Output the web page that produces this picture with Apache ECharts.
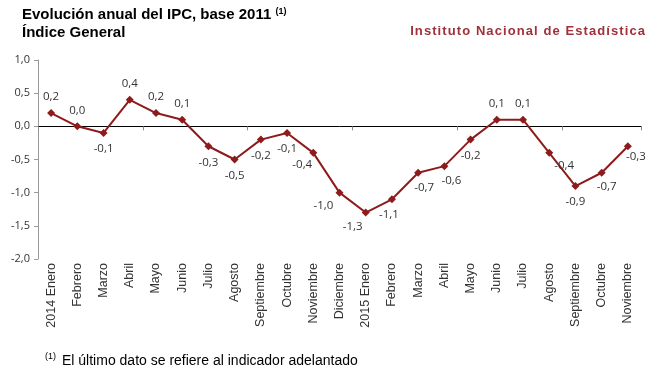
<!DOCTYPE html>
<html><head><meta charset="utf-8">
<script src="https://cdn.jsdelivr.net/npm/echarts@6/dist/echarts.min.js"></script>
<style>html,body{margin:0;padding:0;background:#fff}#c{width:665px;height:379px}</style>
</head><body><div id="c"></div>
<script>
var categories = ['2014 Enero','Febrero','Marzo','Abril','Mayo','Junio','Julio','Agosto','Septiembre','Octubre','Noviembre','Diciembre','2015 Enero','Febrero','Marzo','Abril','Mayo','Junio','Julio','Agosto','Septiembre','Octubre','Noviembre'];
var ipcValues = [0.2,0.0,-0.1,0.4,0.2,0.1,-0.3,-0.5,-0.2,-0.1,-0.4,-1.0,-1.3,-1.1,-0.7,-0.6,-0.2,0.1,0.1,-0.4,-0.9,-0.7,-0.3];
var yTicks = {min:-2, max:1, interval:0.5};
var titleLine1 = 'Evolución anual del IPC, base 2011';
var titleLine2 = 'Índice General';
var sourceText = 'Instituto Nacional de Estadística';
var footnote = 'El último dato se refiere al indicador adelantado';

var fmt = function(v){return v.toFixed(1).replace('.', ',');};
var labelOffsets = {10:[-11,-4],11:[-16,-3],12:[-13,-2],13:[-3,-1],14:[6,-1],15:[7,-1],19:[15,-3],21:[5,-2],22:[8,-6]};
var chart = echarts.init(document.getElementById('c'));
var lineColor = '#8E1B1B';
chart.setOption({
  animation:false,
  graphic:[
    {type:'text',left:22,top:7,style:{text:titleLine1+' {s|(1)}',font:'bold 15px "Liberation Sans", Arial',fill:'#000',
      rich:{s:{font:'bold 9px "Liberation Sans", Arial',fill:'#000',verticalAlign:'top',padding:[0,0,6,0]}}}},
    {type:'text',left:22,top:25,style:{text:titleLine2,font:'bold 15px "Liberation Sans", Arial',fill:'#000'}},
    {type:'text',right:20,top:25,style:{text:sourceText.split('').join('\u200A'),font:'bold 13px "Liberation Sans", Arial',fill:'#A0303A'}},
    {type:'text',left:45,top:352,style:{text:'(1)',font:'9px "Liberation Sans", Arial',fill:'#000'}},
    {type:'text',left:62,top:354,style:{text:footnote,font:'14px "Liberation Sans", Arial',fill:'#000'}}
  ],
  grid:{left:38,right:24,top:60,bottom:120,containLabel:false},
  xAxis:[{
    type:'category',data:categories,boundaryGap:true,position:'bottom',
    axisLine:{show:false,onZero:false},axisTick:{show:false},
    axisLabel:{rotate:90,interval:0,color:'#333',fontFamily:'"Liberation Sans", Arial',fontSize:12.5,margin:4}
  },{
    type:'category',data:categories,boundaryGap:true,position:'bottom',
    axisLine:{show:true,onZero:true,lineStyle:{color:'#000',width:1}},
    axisTick:{show:true,inside:false,length:4,lineStyle:{color:'#888'}},
    axisLabel:{show:false}
  }],
  yAxis:{
    type:'value',min:yTicks.min,max:yTicks.max,interval:yTicks.interval,
    axisLine:{show:true,lineStyle:{color:'#999'}},
    axisTick:{show:true,length:4,lineStyle:{color:'#999'}},
    splitLine:{show:false},
    axisLabel:{formatter:fmt,color:'#333',fontFamily:'"Open Sans", "Noto Sans"',fontSize:11,margin:8}
  },
  series:[{
    type:'line',data:ipcValues.map(function(v,i){
      var lb={position:v>=0?'top':'bottom'};
      if(labelOffsets[i]) lb.offset=labelOffsets[i];
      return {value:v,label:lb};}),
    xAxisIndex:0,
    symbol:'diamond',symbolSize:8,
    lineStyle:{color:lineColor,width:2},itemStyle:{color:lineColor},
    label:{show:true,formatter:function(p){return fmt(p.value);},color:'#333',fontFamily:'"Open Sans", "Noto Sans"',fontSize:11.5,distance:6}
  }]
});
</script></body></html>
